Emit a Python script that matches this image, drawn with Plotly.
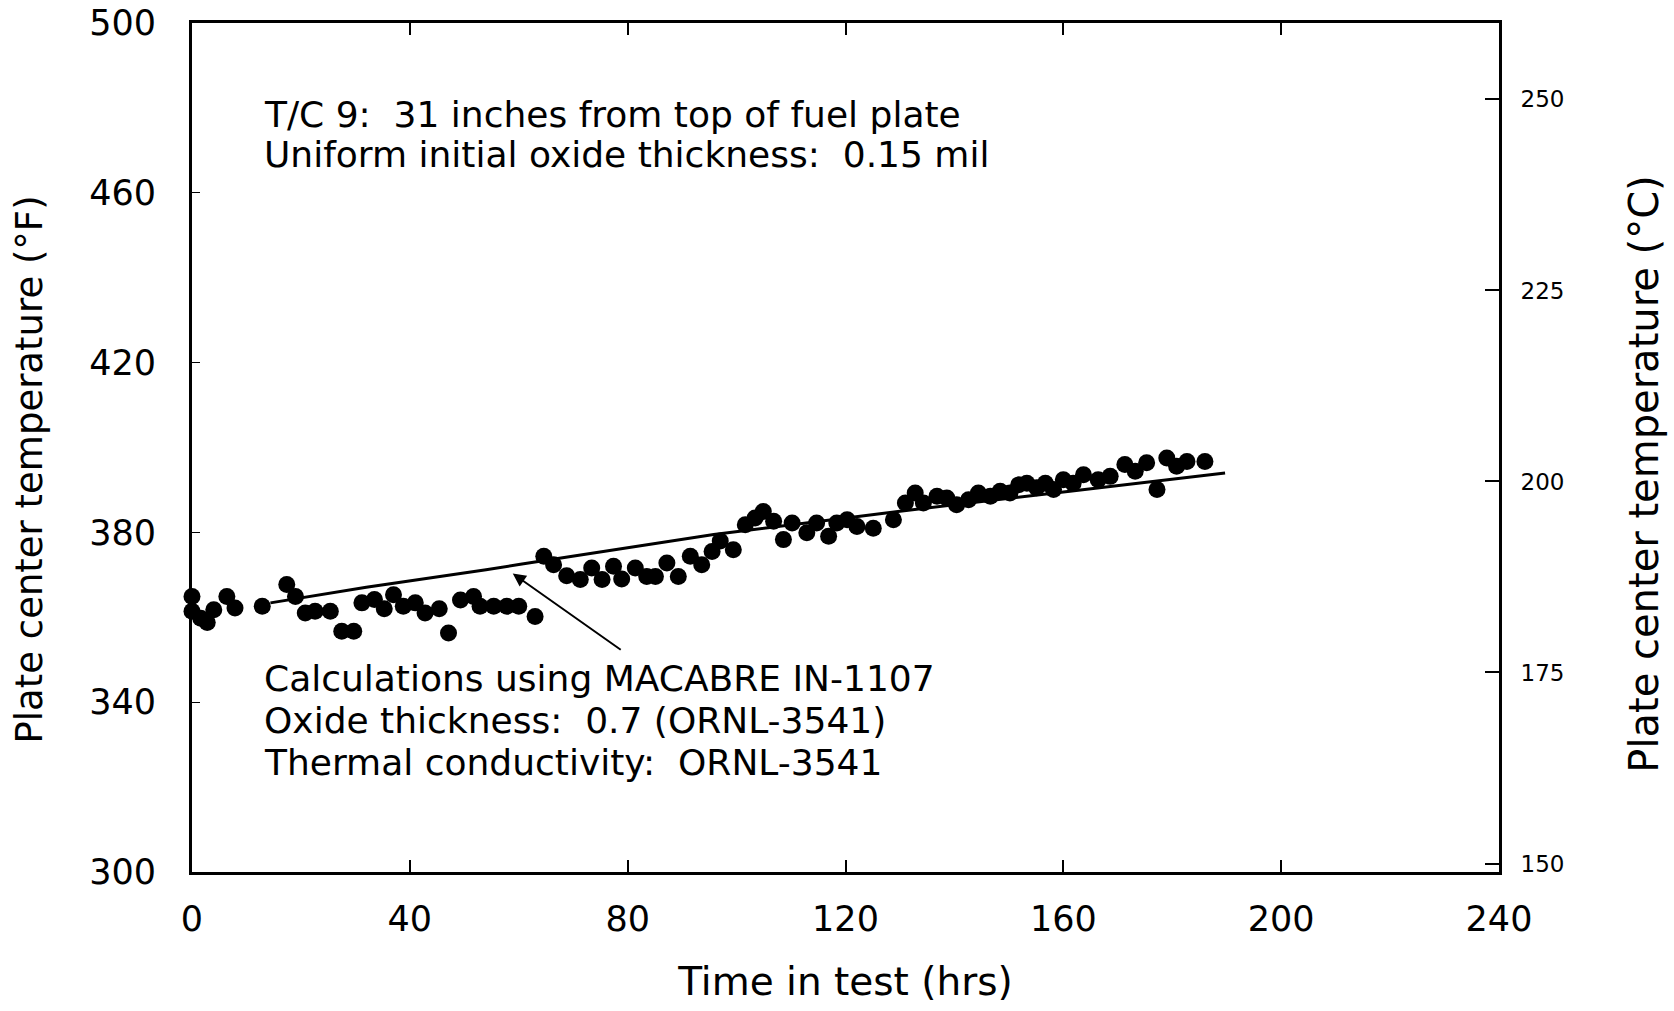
import plotly.graph_objects as go

# Measured plate center temperature (T/C 9)
meas_hrs = [0.0, 0.0, 1.6, 2.8, 4.0, 6.4, 7.9, 12.9, 17.4, 19.0, 20.8, 22.6, 25.4,
            27.5, 29.7, 31.2, 33.5, 35.3, 37.0, 38.8, 41.0, 42.8, 45.4, 47.1, 49.3,
            51.7, 52.9, 55.4, 57.8, 60.0, 63.0,
            64.6, 66.4, 68.8, 71.3, 73.4, 75.3, 77.4, 78.9, 81.4, 83.5, 85.1, 87.2,
            89.3, 91.5, 93.6, 95.5, 97.0, 99.4, 101.6, 103.4, 104.9, 106.8, 108.6,
            110.2, 112.9, 114.7, 116.9, 118.4, 120.3, 122.1, 125.1, 128.8, 131.0,
            132.8, 134.3, 136.8, 138.6, 140.4, 142.6, 144.4, 146.6, 148.4, 150.2,
            151.8, 153.3, 155.1, 156.7, 158.2, 160.0, 161.8, 163.7, 166.4, 168.6,
            171.3, 173.2, 175.3, 177.2, 179.0, 180.8, 182.7, 186.0]
meas_F = [364.9, 361.4, 359.8, 358.8, 361.8, 364.9, 362.2, 362.6, 367.7, 364.9, 361.0,
          361.4, 361.4, 356.7, 356.7, 363.4, 364.2, 362.0, 365.3, 362.6, 363.4, 361.0,
          362.0, 356.3, 364.1, 364.9, 362.6, 362.6, 362.6, 362.6, 360.2,
          374.4, 372.4, 369.8, 368.9, 371.6, 368.9, 372.0, 369.0, 371.6, 369.6, 369.6,
          372.8, 369.6, 374.4, 372.4, 375.5, 378.0, 375.9, 381.8, 383.4, 384.9, 382.6,
          378.3, 382.2, 379.9, 382.2, 379.1, 382.2, 383.0, 381.4, 381.0, 383.0, 386.9,
          389.3, 386.9, 388.5, 388.1, 386.5, 387.7, 389.3, 388.5, 389.7, 389.3, 391.2,
          391.6, 390.5, 391.6, 390.1, 392.4, 391.6, 393.6, 392.4, 393.2, 396.0, 394.4,
          396.4, 390.1, 397.5, 395.6, 396.7, 396.7]

# Calculation (MACABRE IN-1107)
calc_hrs = [14.4, 32.0, 54.0, 60.3, 95.8, 130.0, 161.2, 189.7]
calc_F = [363.4, 367.1, 371.2, 372.5, 379.5, 385.0, 389.7, 394.0]

x_ticks = [0, 40, 80, 120, 160, 200, 240]
yF_ticks = [300, 340, 380, 420, 460, 500]
yC_ticks = [150, 175, 200, 225, 250]

FONT = "DejaVu Sans"

fig = go.Figure()
fig.add_trace(go.Scatter(x=calc_hrs, y=calc_F, mode="lines",
                         line=dict(color="black", width=3),
                         showlegend=False, hoverinfo="skip"))
fig.add_trace(go.Scatter(x=meas_hrs, y=meas_F, mode="markers",
                         marker=dict(color="black", size=17, line=dict(width=0)),
                         showlegend=False, cliponaxis=False))
# invisible trace to carry the Celsius axis
fig.add_trace(go.Scatter(x=calc_hrs, y=[(f - 32) * 5 / 9 for f in calc_F],
                         yaxis="y2", mode="lines", opacity=0,
                         showlegend=False, hoverinfo="skip"))

fig.update_layout(
    width=1674, height=1011,
    margin=dict(l=192, r=175, t=23, b=139, autoexpand=False),
    paper_bgcolor="white", plot_bgcolor="white",
    font=dict(family=FONT, color="black"),
    xaxis=dict(range=[0, 240], tickvals=x_ticks, ticks="inside", ticklen=12,
               tickwidth=2, tickcolor="black", showline=True, linewidth=3,
               linecolor="black", mirror="ticks", showgrid=False, zeroline=False,
               automargin=False,
               tickfont=dict(size=35, family=FONT), ticklabelstandoff=14,
               title=dict(text="Time in test (hrs)", font=dict(size=39, family=FONT),
                          standoff=30)),
    yaxis=dict(range=[300, 500], tickvals=yF_ticks, ticks="inside", ticklen=8,
               tickwidth=1, tickcolor="black", showline=True, linewidth=3,
               linecolor="black", showgrid=False, zeroline=False, automargin=False,
               tickfont=dict(size=35, family=FONT), ticklabelstandoff=26),
    yaxis2=dict(range=[(300 - 32) * 5 / 9, (500 - 32) * 5 / 9], tickvals=yC_ticks,
                overlaying="y", side="right", ticks="inside", ticklen=14,
                tickwidth=2, tickcolor="black", showline=True, linewidth=3,
                linecolor="black", showgrid=False, zeroline=False, automargin=False,
                tickfont=dict(size=23, family=FONT), ticklabelstandoff=14),
)

# axis titles for the two temperature scales
fig.add_annotation(xref="paper", yref="paper", x=-0.124, y=0.474,
                   text="Plate center temperature (°F)", textangle=-90,
                   showarrow=False, xanchor="center", yanchor="middle",
                   font=dict(size=37, family=FONT, color="black"))
fig.add_annotation(xref="paper", yref="paper", x=1.111, y=0.468,
                   text="Plate center temperature (°C)", textangle=-90,
                   showarrow=False, xanchor="center", yanchor="middle",
                   font=dict(size=40, family=FONT, color="black"))

ann_font = dict(size=36, family=FONT, color="black")
top_lines = ["T/C 9:  31 inches from top of fuel plate",
             "Uniform initial oxide thickness:  0.15 mil"]
top_y = [478.4, 469.0]
for txt, yy in zip(top_lines, top_y):
    fig.add_annotation(x=12.8, y=yy, text=txt, showarrow=False, xanchor="left",
                       yanchor="middle", font=ann_font)

bot_lines = ["Calculations using MACABRE IN-1107",
             "Oxide thickness:  0.7 (ORNL-3541)",
             "Thermal conductivity:  ORNL-3541"]
bot_y = [345.5, 335.7, 325.9]
for txt, yy in zip(bot_lines, bot_y):
    fig.add_annotation(x=12.8, y=yy, text=txt, showarrow=False, xanchor="left",
                       yanchor="middle", font=ann_font)

fig.add_annotation(x=58.9, y=370.3, ax=79.0, ay=352.1, axref="x", ayref="y",
                   text="", showarrow=True, arrowhead=2, arrowsize=1.3,
                   arrowwidth=2, arrowcolor="black")

fig.write_html("out.html")
